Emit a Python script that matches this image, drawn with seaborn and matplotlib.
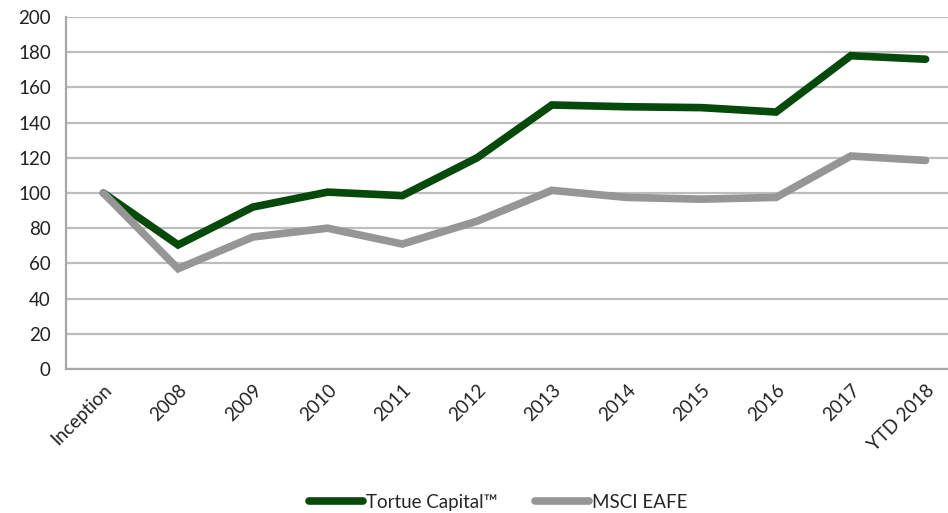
import pandas as pd
import seaborn as sns
import matplotlib.pyplot as plt

sns.set_style("white")
plt.rcParams['font.family'] = ['Lato', 'DejaVu Sans']

periods = ['Inception', '2008', '2009', '2010', '2011', '2012', '2013',
           '2014', '2015', '2016', '2017', 'YTD 2018']
tortue = [100, 70.5, 92, 100.5, 98.5, 120, 150, 149, 148.5, 146, 178, 176]
msci = [100, 57, 75, 80, 71, 84, 101.5, 97.5, 96.5, 97.5, 121, 118.5]

df = pd.DataFrame({
    'period': periods * 2,
    'value': tortue + msci,
    'series': ['Tortue Capital™'] * len(periods) + ['MSCI EAFE'] * len(periods),
})

fig = plt.figure(figsize=(9.48, 5.13), dpi=100)
ax = fig.add_axes([0.0696, 0.2807, 0.9304, 0.6862])

sns.lineplot(data=df, x='period', y='value', hue='series', sort=False,
             palette={'Tortue Capital™': '#054a0b', 'MSCI EAFE': '#969696'},
             linewidth=5.5, ax=ax, legend=True)
for line in ax.lines:
    line.set_solid_capstyle('round')
    line.set_solid_joinstyle('miter')

ax.set_ylim(0, 200)
ax.set_yticks(range(0, 201, 20))
ax.set_xlim(-0.5, 11.3)
ax.set_xticks([i - 0.5 for i in range(12)], minor=True)
ax.set_xticks(range(12))
ax.set_xticklabels(periods, rotation=45, ha='right', rotation_mode='anchor')
ax.tick_params(axis='x', which='major', length=0, pad=9, labelsize=13.5, colors='#222222')
ax.tick_params(axis='x', which='minor', length=6, width=1.2, color='#a8a8a8', direction='out')
ax.tick_params(axis='y', length=6, width=1.2, color='#a8a8a8', pad=5, labelsize=13.5, labelcolor='#222222')
ax.set_xlabel('')
ax.set_ylabel('')

ax.yaxis.grid(True, color='#bdbdbd', linewidth=1.6)
ax.set_axisbelow(True)
for side in ['top', 'right']:
    ax.spines[side].set_visible(False)
for side in ['left', 'bottom']:
    ax.spines[side].set_color('#a8a8a8')
    ax.spines[side].set_linewidth(1.6)

leg = ax.legend(loc='lower center', bbox_to_anchor=(0.5 - 0.01, -0.45), ncol=2, frameon=False,
                fontsize=13.5, handlelength=2.9, handletextpad=0.15, columnspacing=2.0)
for h in leg.get_lines():
    h.set_linewidth(5.5)
    h.set_solid_capstyle('round')

fig.savefig('out.png', dpi=100)
